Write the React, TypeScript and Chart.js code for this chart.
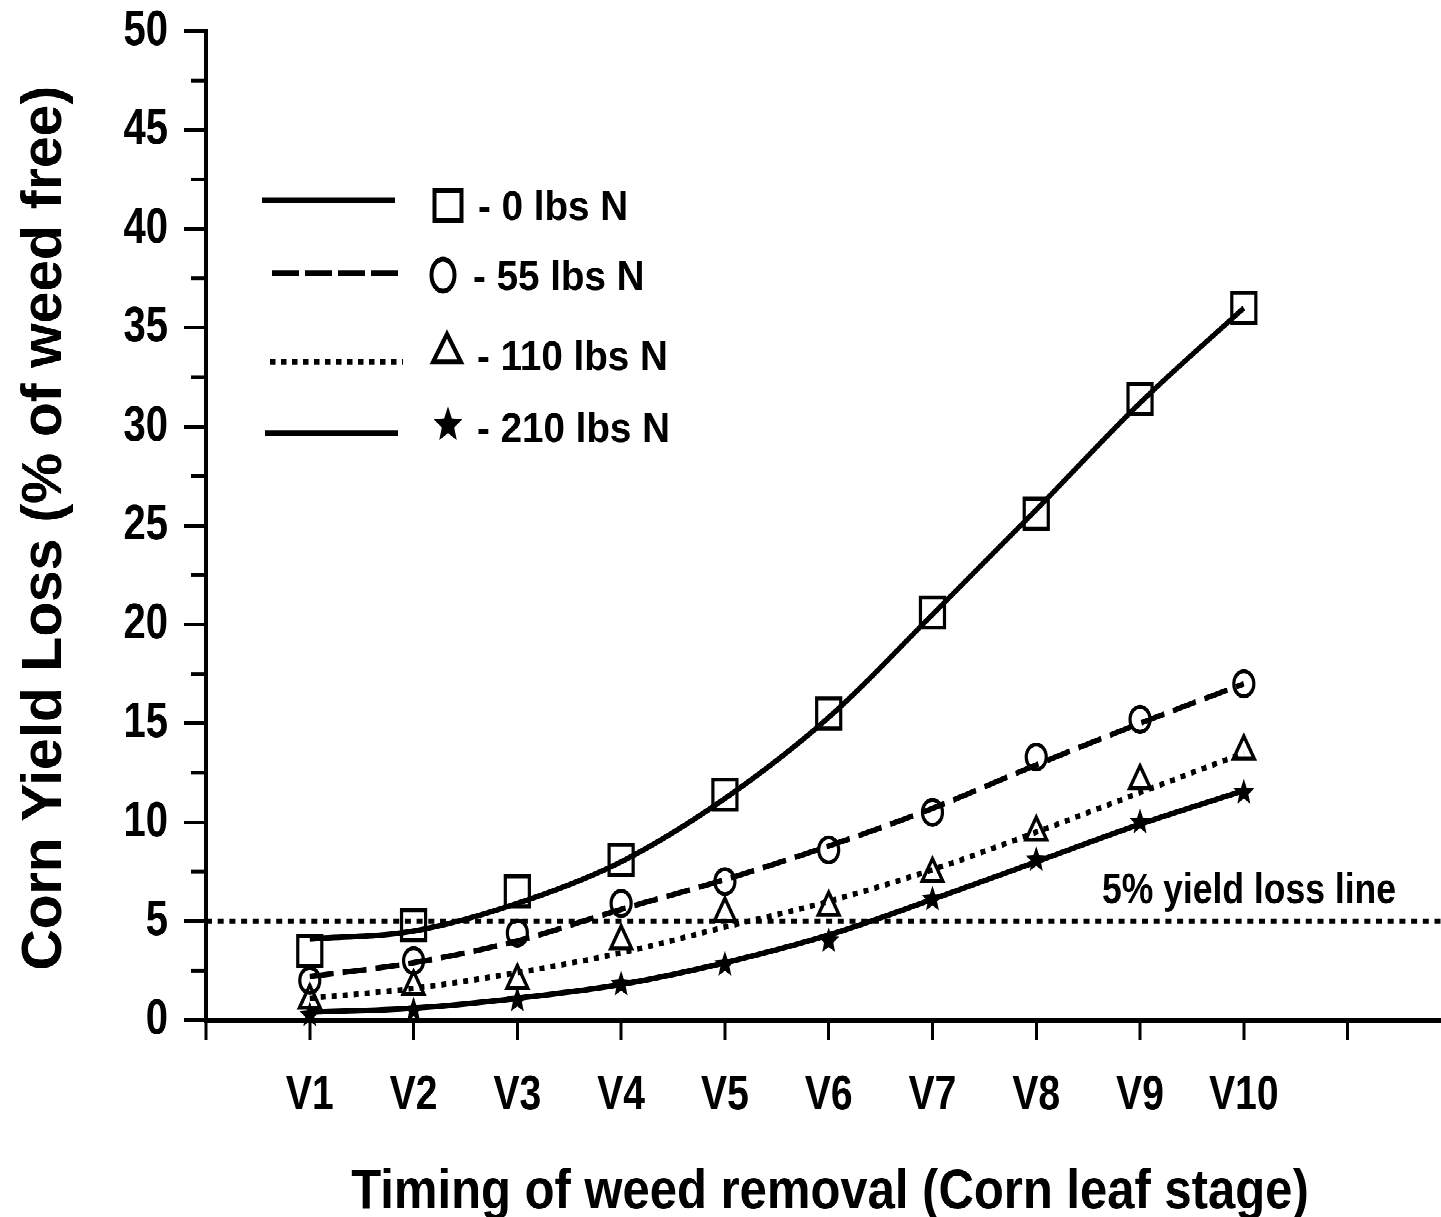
import React, { useEffect, useRef } from 'react';
import { Chart, registerables } from 'chart.js';

Chart.register(...registerables);

// vertical stretch of the reference picture
const S = 1.25;
const W = 1441;
const H = Math.round(1217 / S);
const FONT = '"Liberation Sans", Arial, Helvetica, sans-serif';

// ---- data ----
const stagePositions = [1, 2, 3, 4, 5, 6, 7, 8, 9, 10];
const xTickLabels = ['', 'V1', 'V2', 'V3', 'V4', 'V5', 'V6', 'V7', 'V8', 'V9', 'V10', ''];
const xMax = 11.9;
const yMax = 50;
const yMinorTicks = [2.5, 7.5, 12.5, 17.5, 22.5, 27.5, 32.5, 37.5, 42.5, 47.5];

// observed points
const obs0 = [3.5, 4.8, 6.5, 8.1, 11.4, 15.5, 20.6, 25.6, 31.4, 36.0];
const obs55 = [2.0, 3.0, 4.4, 5.9, 7.0, 8.6, 10.5, 13.3, 15.2, 17.0];
const obs110 = [1.0, 1.7, 2.0, 4.0, 5.4, 5.7, 7.4, 9.5, 12.1, 13.6];
const obs210 = [0.25, 0.5, 1.0, 1.8, 2.8, 4.0, 6.1, 8.1, 10.0, 11.5];

// fitted curves
const fit0 = [4.1, 4.5, 5.9, 8.0, 11.2, 15.3, 20.5, 25.8, 31.2, 36.0];
const fit55 = [2.2, 2.9, 4.0, 5.6, 7.1, 8.8, 10.7, 12.9, 15.0, 17.0];
const fit110 = [1.1, 1.6, 2.4, 3.4, 4.7, 6.0, 7.6, 9.5, 11.5, 13.5];
const fit210 = [0.4, 0.6, 1.1, 1.8, 2.9, 4.3, 6.1, 8.0, 9.9, 11.6];

const seriesNames = ['- 0 lbs N', '- 55 lbs N', '- 110 lbs N', '- 210 lbs N'];
const thresholdX = [0, 11.9];
const thresholdY = [5, 5];
const thresholdLabel = '5% yield loss line';
const xTitle = 'Timing of weed removal (Corn leaf stage)';
const yTitle = 'Corn Yield Loss (% of weed free)';

const pts = (xs: number[], ys: number[]) => xs.map((x, i) => ({ x, y: ys[i] }));

function starPath(ctx: CanvasRenderingContext2D, cx: number, cy: number, R: number, r: number) {
  ctx.beginPath();
  for (let i = 0; i < 10; i++) {
    const ang = -Math.PI / 2 + (i * Math.PI) / 5;
    const rad = i % 2 === 0 ? R : r;
    const px = cx + Math.cos(ang) * rad;
    const py = cy + Math.sin(ang) * rad;
    if (i === 0) ctx.moveTo(px, py);
    else ctx.lineTo(px, py);
  }
  ctx.closePath();
}

// draw text given screen coordinates and desired screen em (horizontal/vertical)
function screenText(
  ctx: CanvasRenderingContext2D,
  text: string,
  x: number,
  yScreen: number,
  emW: number,
  emH: number,
  align: CanvasTextAlign,
  bold = true
) {
  ctx.save();
  ctx.translate(x, yScreen / S);
  ctx.scale(1, emH / emW / S);
  ctx.font = `${bold ? 'bold ' : ''}${emW}px ${FONT}`;
  ctx.textAlign = align;
  ctx.textBaseline = 'alphabetic';
  ctx.fillStyle = '#000';
  ctx.fillText(text, 0, 0);
  ctx.restore();
}

const overlayPlugin = {
  id: 'overlay',
  afterDatasetsDraw(chart: any) {
    const ctx: CanvasRenderingContext2D = chart.ctx;
    chart.data.datasets.forEach((ds: any, i: number) => {
      if (ds.id !== 'stars') return;
      const meta = chart.getDatasetMeta(i);
      ctx.save();
      ctx.fillStyle = '#000';
      meta.data.forEach((el: any) => {
        starPath(ctx, el.x, el.y, 11, 4.8);
        ctx.fill();
      });
      ctx.restore();
    });
  },
  afterDraw(chart: any) {
    const ctx: CanvasRenderingContext2D = chart.ctx;
    const yScale = chart.scales.y;
    const left = chart.chartArea.left;

    // minor y ticks
    ctx.save();
    ctx.strokeStyle = '#000';
    ctx.lineWidth = 3;
    yMinorTicks.forEach((v) => {
      const y = yScale.getPixelForValue(v);
      ctx.beginPath();
      ctx.moveTo(left - 15, y);
      ctx.lineTo(left, y);
      ctx.stroke();
    });
    ctx.restore();

    // legend lines
    ctx.save();
    ctx.strokeStyle = '#000';
    ctx.lineWidth = 4.5;
    ctx.lineCap = 'butt';
    const legLines: [number, number, number, number[]][] = [
      [262, 395, 200, []],
      [272, 403, 273, [27, 6]],
      [270, 403, 362, [5.5, 5.5]],
      [265, 398, 433, []],
    ];
    legLines.forEach(([x1, x2, ys, dash]) => {
      ctx.setLineDash(dash);
      ctx.beginPath();
      ctx.moveTo(x1, ys / S);
      ctx.lineTo(x2, ys / S);
      ctx.stroke();
    });
    ctx.setLineDash([]);
    ctx.lineWidth = 4;
    ctx.strokeRect(448 - 13.5, 205 / S - 12, 27, 24);
    ctx.beginPath();
    ctx.ellipse(443, 275 / S, 11.5, 12.8, 0, 0, Math.PI * 2);
    ctx.stroke();
    ctx.beginPath();
    ctx.moveTo(447, 334 / S);
    ctx.lineTo(433, 362 / S);
    ctx.lineTo(461, 362 / S);
    ctx.closePath();
    ctx.stroke();
    ctx.fillStyle = '#000';
    starPath(ctx, 448, 425 / S, 15, 6.5);
    ctx.fill();
    ctx.restore();

    // legend texts
    const legText: [number, number][] = [
      [478, 220],
      [473, 290],
      [477, 370],
      [477, 442],
    ];
    seriesNames.forEach((t, i) => {
      screenText(ctx, t, legText[i][0], legText[i][1], 38.6, 42, 'left');
    });

    // threshold label
    screenText(ctx, thresholdLabel, 1102, 903, 35.5, 43, 'left');

    // x title
    screenText(ctx, xTitle, 830, 1208, 49, 56, 'center');

    // y title (rotated)
    ctx.save();
    ctx.translate(61, 528 / S);
    ctx.scale(1, 1 / S);
    ctx.rotate(-Math.PI / 2);
    ctx.font = `bold 57px ${FONT}`;
    ctx.textAlign = 'center';
    ctx.textBaseline = 'alphabetic';
    ctx.fillStyle = '#000';
    ctx.fillText(yTitle, 0, 0);
    ctx.restore();
  },
};

export default function App() {
  const ref = useRef<HTMLCanvasElement | null>(null);

  useEffect(() => {
    if (!ref.current) return;
    const black = '#000';
    const lineBase = {
      type: 'line' as const,
      showLine: true,
      pointRadius: 0,
      borderColor: black,
      borderWidth: 4.5,
      cubicInterpolationMode: 'monotone' as const,
      fill: false,
      clip: false as any,
    };
    const markBase = {
      type: 'line' as const,
      showLine: false,
      borderColor: black,
      backgroundColor: 'rgba(0,0,0,0)',
      borderWidth: 3.2,
      clip: false as any,
    };
    const datasets: any[] = [
      { ...lineBase, label: 'thr', data: pts(thresholdX, thresholdY), borderDash: [6, 5.7], borderWidth: 4, tension: 0 },
      { ...lineBase, label: 'fit0', data: pts(stagePositions, fit0) },
      { ...lineBase, label: 'fit55', data: pts(stagePositions, fit55), borderDash: [24, 9] },
      { ...lineBase, label: 'fit110', data: pts(stagePositions, fit110), borderDash: [5, 6] },
      { ...lineBase, label: 'fit210', data: pts(stagePositions, fit210) },
      { ...markBase, label: seriesNames[0], data: pts(stagePositions, obs0), pointStyle: 'rect', pointRadius: 17 },
      { ...markBase, label: seriesNames[1], data: pts(stagePositions, obs55), pointStyle: 'circle', pointRadius: 10 },
      { ...markBase, label: seriesNames[2], data: pts(stagePositions, obs110), pointStyle: 'triangle', pointRadius: 12 },
      { ...markBase, id: 'stars', label: seriesNames[3], data: pts(stagePositions, obs210), pointRadius: 0 },
    ];

    const chart = new Chart(ref.current, {
      type: 'line',
      data: { datasets },
      options: {
        animation: false,
        responsive: true,
        maintainAspectRatio: false,
        devicePixelRatio: 2,
        events: [],
        layout: { autoPadding: false, padding: { top: 24.8, left: 0, right: 0, bottom: 0 } },
        plugins: { legend: { display: false }, tooltip: { enabled: false } },
        scales: {
          x: {
            type: 'linear',
            min: 0,
            max: xMax,
            afterFit: (scale: any) => {
              scale.height = H - 816;
              scale.paddingLeft = 0;
              scale.paddingRight = 0;
              scale.paddingTop = 0;
              scale.paddingBottom = 0;
            },
            ticks: {
              stepSize: 1,
              includeBounds: false,
              autoSkip: false,
              maxRotation: 0,
              minRotation: 0,
              padding: 21.4,
              color: black,
              font: { size: 39, weight: 'bold', family: FONT },
              callback: (v: any) => xTickLabels[Math.round(Number(v))] ?? '',
            },
            grid: { drawOnChartArea: false, drawTicks: true, tickLength: 16, tickWidth: 3, tickColor: black },
            border: { display: true, color: black, width: 4 },
          },
          y: {
            type: 'linear',
            min: 0,
            max: yMax,
            afterFit: (scale: any) => {
              scale.width = 206;
              scale.paddingLeft = 0;
              scale.paddingRight = 0;
              scale.paddingTop = 0;
              scale.paddingBottom = 0;
            },
            ticks: {
              stepSize: 5,
              padding: 16,
              color: black,
              font: { size: 40, weight: 'bold', family: FONT, lineHeight: 1 },
            },
            grid: { drawOnChartArea: false, drawTicks: true, tickLength: 22, tickWidth: 3, tickColor: black },
            border: { display: true, color: black, width: 4 },
          },
        },
      } as any,
      plugins: [overlayPlugin],
    });
    return () => chart.destroy();
  }, []);

  return (
    <div
      style={{
        position: 'absolute',
        left: 0,
        top: 0,
        width: W,
        height: H,
        transform: `scaleY(${S})`,
        transformOrigin: '0 0',
        background: '#fff',
      }}
    >
      <canvas ref={ref} />
    </div>
  );
}
